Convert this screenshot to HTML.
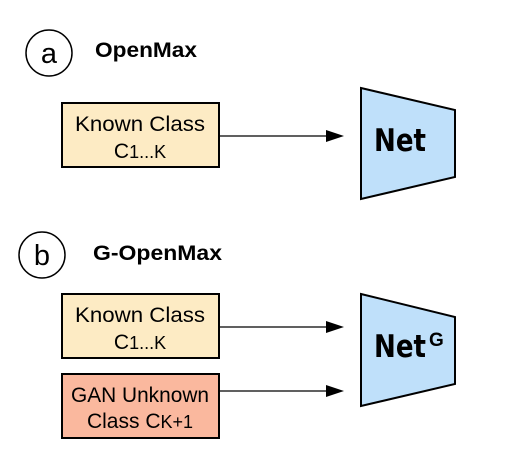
<!DOCTYPE html>
<html><head><style>body{margin:0;background:#fff}</style></head><body>
<svg width="532" height="456" xmlns="http://www.w3.org/2000/svg" font-family="Liberation Sans, sans-serif">
<circle cx="49" cy="53" r="23" fill="#fff" stroke="#000" stroke-width="1.5"/>
<text x="49" y="63" font-size="29" text-anchor="middle">a</text>
<text x="95" y="57" font-size="21" font-weight="bold" textLength="102" lengthAdjust="spacingAndGlyphs">OpenMax</text>
<rect x="62" y="103" width="157" height="64" fill="#fdebc4" stroke="#000" stroke-width="2"/>
<text x="140" y="131" font-size="21" text-anchor="middle" textLength="130" lengthAdjust="spacingAndGlyphs">Known Class</text>
<text x="140" y="158" font-size="21" text-anchor="middle">C<tspan font-size="18">1...K</tspan></text>
<line x1="219" y1="136" x2="328" y2="136" stroke="#000" stroke-width="1.3"/>
<path d="M326,130 L344,136 L326,142 z"/>
<path d="M361,88 L455,110 L455,177 L361,199 z" fill="#bfe0fa" stroke="#000" stroke-width="2"/>
<text x="374" y="151" font-size="31" font-weight="bold" font-family="DejaVu Sans, sans-serif" textLength="52" lengthAdjust="spacingAndGlyphs">Net</text>
<circle cx="42" cy="255" r="23" fill="#fff" stroke="#000" stroke-width="1.5"/>
<text x="42" y="265" font-size="29" text-anchor="middle">b</text>
<text x="93" y="260" font-size="21" font-weight="bold" textLength="129" lengthAdjust="spacingAndGlyphs">G-OpenMax</text>
<rect x="62" y="294" width="157" height="64" fill="#fdebc4" stroke="#000" stroke-width="2"/>
<text x="140" y="322" font-size="21" text-anchor="middle" textLength="130" lengthAdjust="spacingAndGlyphs">Known Class</text>
<text x="140" y="349" font-size="21" text-anchor="middle">C<tspan font-size="18">1...K</tspan></text>
<rect x="62" y="374" width="157" height="64" fill="#fab89e" stroke="#000" stroke-width="2"/>
<text x="140" y="402" font-size="21" text-anchor="middle" textLength="138" lengthAdjust="spacingAndGlyphs">GAN Unknown</text>
<text x="140" y="428" font-size="21" text-anchor="middle">Class C<tspan font-size="18">K+1</tspan></text>
<line x1="219" y1="327" x2="328" y2="327" stroke="#000" stroke-width="1.3"/>
<path d="M326,321 L344,327 L326,333 z"/>
<line x1="219" y1="391" x2="328" y2="391" stroke="#000" stroke-width="1.3"/>
<path d="M326,385 L344,391 L326,397 z"/>
<path d="M361,294 L455,317 L455,384 L361,406 z" fill="#bfe0fa" stroke="#000" stroke-width="2"/>
<text x="374" y="357" font-size="31" font-weight="bold" font-family="DejaVu Sans, sans-serif" textLength="52" lengthAdjust="spacingAndGlyphs">Net</text>
<text x="429" y="346" font-size="19" font-weight="bold">G</text>
</svg>
</body></html>
